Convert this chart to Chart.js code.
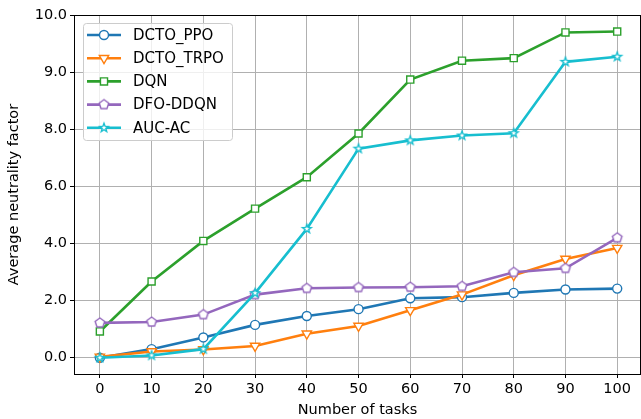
<!DOCTYPE html>
<html><head><meta charset="utf-8">
<script src="https://cdn.jsdelivr.net/npm/chart.js@4/dist/chart.umd.min.js"></script>
<style>html,body{margin:0;padding:0;background:#fff}#c{display:block}</style>
</head><body>
<canvas id="c" width="641" height="419"></canvas>
<script>
// ---- data ----
const tasks = [0, 10, 20, 30, 40, 50, 60, 70, 80, 90, 100];
const seriesNames = ['DCTO_PPO', 'DCTO_TRPO', 'DQN', 'DFO-DDQN', 'AUC-AC'];
const dctoPpo  = [0.00, 0.30, 0.71, 1.15, 1.46, 1.70, 2.08, 2.12, 2.27, 2.39, 2.42];
const dctoTrpo = [0.03, 0.22, 0.29, 0.41, 0.84, 1.11, 1.66, 2.21, 2.89, 3.46, 3.84];
const dqn      = [0.92, 2.67, 4.09, 5.22, 6.32, 7.85, 9.74, 10.40, 10.49, 11.39, 11.42];
const dfoDdqn  = [1.22, 1.25, 1.51, 2.21, 2.43, 2.46, 2.47, 2.50, 2.99, 3.13, 4.20];
const aucAc    = [0.00, 0.08, 0.30, 2.26, 4.51, 7.32, 7.61, 7.78, 7.86, 10.36, 10.54];
const yTickPos = [0, 2, 4, 6, 8, 10, 12];
const yTickLabels = ['0.0', '2.0', '4.0', '6.0', '8.0', '9.0', '10.0'];
const xTickPos = tasks;

// ---- styles ----
const colors = ['#1f77b4', '#ff7f0e', '#2ca02c', '#9467bd', '#17becf'];
const FONT = "'DejaVu Sans', sans-serif";

function makeShape(kind, color) {
  const s = 14, c = document.createElement('canvas');
  c.width = s; c.height = s;
  const g = c.getContext('2d');
  g.translate(s / 2, s / 2);
  g.beginPath();
  if (kind === 'pentagon') {
    const r = 5.0;
    for (let i = 0; i < 5; i++) {
      const a = -Math.PI / 2 + i * 2 * Math.PI / 5;
      const px = r * Math.cos(a), py = r * Math.sin(a);
      if (i === 0) g.moveTo(px, py); else g.lineTo(px, py);
    }
  } else {
    const r = 4.6, ri = r * 0.42;
    for (let i = 0; i < 10; i++) {
      const a = -Math.PI / 2 + i * Math.PI / 5;
      const rr = i % 2 === 0 ? r : ri;
      const px = rr * Math.cos(a), py = rr * Math.sin(a);
      if (i === 0) g.moveTo(px, py); else g.lineTo(px, py);
    }
  }
  g.closePath();
  g.fillStyle = '#fff'; g.fill();
  g.lineWidth = 1.4; g.strokeStyle = color; g.lineJoin = 'miter'; g.stroke();
  return c;
}

const pointStyles = [
  { pointStyle: 'circle', radius: 4.5, rotation: 0 },
  { pointStyle: 'triangle', radius: 5.4, rotation: 180 },
  { pointStyle: 'rect', radius: 5.0, rotation: 0 },
  { pointStyle: makeShape('pentagon', colors[3]), radius: 5, rotation: 0 },
  { pointStyle: makeShape('star', colors[4]), radius: 5, rotation: 0 }
];

const allSeries = [dctoPpo, dctoTrpo, dqn, dfoDdqn, aucAc];
const datasets = allSeries.map((vals, i) => ({
  label: seriesNames[i],
  data: tasks.map((t, j) => ({ x: t, y: vals[j] })),
  borderColor: colors[i],
  backgroundColor: colors[i],
  borderWidth: 2.6,
  pointStyle: pointStyles[i].pointStyle,
  pointRadius: pointStyles[i].radius,
  pointRotation: pointStyles[i].rotation,
  pointBackgroundColor: '#ffffff',
  pointBorderColor: colors[i],
  pointBorderWidth: 1.4,
  tension: 0,
  clip: false,
  order: 4 - i
}));

const legendPlugin = {
  id: 'boxLegend',
  afterDraw(chart) {
    const ctx = chart.ctx;
    ctx.save();
    const bx = 83.5, by = 23.5, bw = 149, bh = 117, r = 3;
    ctx.beginPath();
    ctx.moveTo(bx + r, by);
    ctx.arcTo(bx + bw, by, bx + bw, by + bh, r);
    ctx.arcTo(bx + bw, by + bh, bx, by + bh, r);
    ctx.arcTo(bx, by + bh, bx, by, r);
    ctx.arcTo(bx, by, bx + bw, by, r);
    ctx.closePath();
    ctx.fillStyle = 'rgba(255,255,255,0.8)';
    ctx.fill();
    ctx.strokeStyle = '#cccccc';
    ctx.lineWidth = 1;
    ctx.stroke();
    chart.data.datasets.forEach((ds, i) => {
      const y = 35 + i * 23.2;
      ctx.beginPath();
      ctx.moveTo(87, y); ctx.lineTo(121, y);
      ctx.strokeStyle = ds.borderColor; ctx.lineWidth = ds.borderWidth;
      ctx.stroke();
      ctx.fillStyle = '#fff';
      ctx.strokeStyle = ds.borderColor;
      ctx.lineWidth = ds.pointBorderWidth;
      Chart.helpers.drawPoint(ctx, {
        pointStyle: ds.pointStyle, rotation: ds.pointRotation,
        radius: ds.pointRadius, borderWidth: ds.pointBorderWidth
      }, 104, y);
      ctx.fillStyle = '#000';
      ctx.font = '15px ' + FONT;
      ctx.textBaseline = 'middle';
      ctx.textAlign = 'left';
      ctx.fillText(ds.label, 133, y + 1);
    });
    ctx.restore();
  }
};

const framePlugin = {
  id: 'frame',
  afterDatasetsDraw(chart) {
    const { ctx, chartArea: a } = chart;
    ctx.save();
    ctx.strokeStyle = '#000'; ctx.lineWidth = 1;
    ctx.beginPath();
    ctx.moveTo(a.left, a.top + 0.5); ctx.lineTo(a.right, a.top + 0.5);
    ctx.moveTo(a.right - 0.5, a.top); ctx.lineTo(a.right - 0.5, a.bottom);
    ctx.stroke();
    ctx.restore();
  }
};

new Chart(document.getElementById('c'), {
  type: 'line',
  data: { datasets },
  options: {
    responsive: false,
    animation: false,
    layout: { autoPadding: false, padding: { top: 15, right: 0, left: 0, bottom: 0 } },
    plugins: { legend: { display: false }, tooltip: { enabled: false } },
    scales: {
      x: {
        type: 'linear', min: -5, max: 104.6,
        afterBuildTicks: s => { s.ticks = xTickPos.map(v => ({ value: v })); },
        afterFit: s => { s.height = 45; },
        grid: { color: '#b0b0b0', lineWidth: 1, tickColor: '#000', tickLength: 4, drawOnChartArea: true },
        border: { color: '#000', width: 1 },
        ticks: { color: '#000', font: { family: FONT, size: 14.5 }, padding: 3, maxRotation: 0, autoSkip: false },
        title: { display: true, text: 'Number of tasks', color: '#000', font: { family: FONT, size: 14.5 }, padding: { top: 0, bottom: 0 } }
      },
      y: {
        type: 'linear', min: -0.57, max: 12,
        afterBuildTicks: s => { s.ticks = yTickPos.map(v => ({ value: v })); },
        afterFit: s => { s.width = 74; },
        grid: { color: '#b0b0b0', lineWidth: 1, tickColor: '#000', tickLength: 4 },
        border: { color: '#000', width: 1 },
        ticks: {
          color: '#000', font: { family: FONT, size: 14.5 }, padding: 3,
          callback: (v) => { const k = yTickPos.indexOf(v); return k >= 0 ? yTickLabels[k] : ''; }
        },
        title: { display: true, text: 'Average neutrality factor', color: '#000', font: { family: FONT, size: 14.5 }, padding: { top: 6, bottom: 0 } }
      }
    }
  },
  plugins: [legendPlugin, framePlugin]
});
</script>
</body></html>
